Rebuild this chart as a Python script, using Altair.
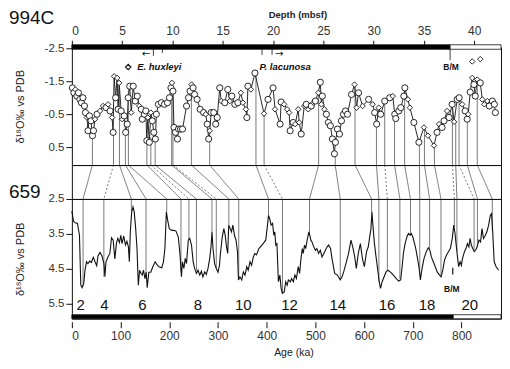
import altair as alt
import pandas as pd

# ---------------- data ----------------
AGE_MAX = 881.0
DEPTH_MAX = 42.66
BM_DEPTH = 37.6
BM_AGE = 783.0

# Site 994C oxygen isotopes (depth in mbsf, d18O permil vs PDB, marker kind)
depth_994 = [0.05, 0.2, 0.35, 0.5, 0.65, 0.8, 0.95, 1.1, 1.25, 1.35, 1.5, 1.6, 1.75, 1.9, 2.05, 2.15, 2.3, 2.5,
             2.8, 3.1, 3.4, 3.6, 3.8, 4.0, 4.1, 4.2, 4.35, 4.5, 4.6, 4.7, 4.9, 5.0, 5.2, 5.35, 5.5, 5.6, 5.75,
             5.9, 6.1, 6.3, 6.5, 6.7, 6.9, 7.0, 7.2, 7.35, 7.45, 7.55, 7.7, 7.85, 8.0, 8.15, 8.3, 8.4, 8.6,
             8.9, 9.2, 9.5, 9.7, 9.85, 9.95, 10.05, 10.15, 10.3, 10.5, 10.6, 10.8, 11.0, 11.4, 11.6, 11.75,
             11.9, 12.05, 12.2, 12.45, 12.75, 13.1, 13.3, 13.45, 13.6, 13.7, 13.85, 14.1, 14.3, 14.45, 14.7,
             14.85, 15.2, 15.5, 15.7, 15.9, 16.2, 16.5, 16.8, 17.0, 17.3, 17.4, 17.5, 17.8, 18.2,
             19.1, 19.5, 20.0, 20.2, 20.7, 20.8, 21.1, 21.4, 21.6, 21.7, 22.0, 22.2, 22.5, 22.6, 22.8, 23.1,
             23.3, 23.5, 23.8, 24.0, 24.2, 24.5, 24.7, 24.8, 24.9, 25.1, 25.3, 25.5, 25.7, 25.9, 26.1, 26.2,
             26.4, 26.6, 26.8, 27.0, 27.2, 27.4, 27.8, 28.1, 28.3, 28.5, 28.9, 29.5, 29.9, 30.1, 30.3, 30.5,
             30.7, 31.1, 31.6, 31.9, 32.1, 32.2, 32.5, 32.7, 33.0, 33.1, 33.4, 33.6, 34.0, 34.5, 35.0, 35.4,
             36.0, 36.3, 36.5, 36.8, 37.0, 37.3, 37.5, 37.8, 38.0, 38.3, 38.5, 38.8, 39.1, 39.3, 39.4, 39.6,
             39.8, 39.97, 40.1, 40.3, 40.6, 40.8, 41.0, 41.3, 41.5, 41.8, 42.0, 42.1]
d18o_994 = [-1.3, -1.15, -1.25, -1.05, -1.15, -0.95, -0.85, -1.0, -0.75, -0.55, -0.4, 0.0, -0.45, -0.3, 0.15, 0.0,
            -0.35, -0.5, -0.6, -0.75, -0.7, -0.8, -0.6, -0.4, 0.05, -1.65, -1.0, -1.6, -0.65, -1.45, -0.6, -0.35,
            -0.45, 0.05, -0.2, -1.0, -1.35, -0.55, -1.35, -0.9, -1.05, -0.75, -0.65, -0.35, -0.5, -0.6, 0.3,
            -0.4, 0.35, -0.55, -0.3, 0.05, 0.25, -0.5, -0.8, -0.85, -0.8, -0.85, -1.0, -1.3, -1.45, -1.2, -0.1,
            0.05, 0.25, -0.05, -0.05, -0.05, -0.75, -1.0, -1.2, -1.4, -1.3, -1.1, -0.95, -0.65, -0.55, -0.5,
            -0.2, 0.25, 0.0, -0.55, -0.55, -0.2, -0.4, -1.3, -0.9, -0.85, -1.25, -0.9, -1.05, -0.8, -0.85,
            -1.15, -0.85, -0.65, -0.4, -1.35, -1.25, -1.75,
            -0.52, -0.95, -1.3, -0.65, -0.2, -0.87, -0.8, -0.65, -0.55, 0.0, -0.25, -0.2, -0.65, -0.25, 0.1,
            -0.75, -0.8, -0.65, -0.75, -0.85, -0.9, -1.15, -1.47, -0.8, -1.05, -0.65, -0.5, -0.25, -0.15, 0.25,
            0.7, 0.35, -0.05, 0.1, -0.3, -0.5, -0.6, -0.5, -1.1, -1.4, -0.7, -1.15, -0.75, -0.95, -0.8, -0.55,
            -0.2, -0.7, -0.5, -0.9, -1.0, -1.05, -0.5, -0.37, -0.6, -0.7, -1.05, -1.3, -0.95, -0.7, -0.25, 0.35,
            -0.1, 0.15, 0.45, 0.05, -0.2, -0.1, -0.3, -0.6, -0.4, -0.8, -0.27, -0.95, -1.0, -0.8, -0.6, -0.35,
            -0.5, -1.17, -1.6, -1.4, -1.05, -1.55, -1.45, -0.95, -0.8, -0.9, -0.75, -0.9, -0.8, -0.55]
kind_994 = list("ccdcccccccdcccccdcddcdcdcdcdcdcdcccccdcccdcccccdcdccccccccccdccccccccccdcccccdccdcccccdcc"
                "dcccdddccdcd"
                "ccdccdddccdddcdcdcdcdcdcdcccccccccccccddcdcdccdcccdccccccddccdddcdccdccdccdccdcdccdcdddcccccccc")

# two isolated diamonds near 40 mbsf
iso_depth = [39.8, 40.6]
iso_val = [-2.1, -2.17]

# Site 659 oxygen isotopes (age ka, d18O)
age_659 = [0, 3.4, 6.8, 11.5, 15.6, 18.3, 21, 24.4, 27, 30, 33, 36.6, 40, 44, 47.5, 51, 53.6, 57.7, 61.7, 65.8,
           67.8, 70, 74, 78, 81.4, 84.8, 88.2, 91.6, 94.3, 97.7, 100.4, 103, 106.5, 110, 113, 116, 118, 120,
           122.8, 125.5, 128, 131, 133.7, 136.4, 139, 141.8, 144.5, 147, 150, 152.6, 154.7, 158, 162, 166, 171,
           175.7, 180, 184.5, 188, 191, 194, 196.7, 200, 205, 209.6, 213.7, 218.5, 222, 225, 227, 230, 232.7,
           235.4, 239, 242, 245.6, 249, 252, 255.8, 259, 262.6, 266, 269, 272.7, 276, 279.5, 283, 285.6, 287.7,
           289.7, 293, 296.5, 300, 303, 305, 308.7, 312, 314.8, 317.5, 320, 322, 325, 327.7, 330.4, 333.8, 337,
           340, 342, 345, 348.7, 352, 355.5, 359, 362, 365.7, 369, 372.5, 375.8, 379, 384, 391.5, 398, 401.6,
           403.7, 406, 409, 412, 414.6, 416.6, 418.6, 421, 424, 427, 429.6, 432, 436, 439, 442, 444.5, 448.6,
           451, 454.6, 458, 461, 464.7, 467.5, 470, 473, 475, 477.6, 480, 483, 486.6, 488.6, 490.6, 493, 496.6,
           500, 503, 506.6, 510, 513.6, 519, 524, 527, 531, 534, 539.5, 545, 551, 554.6, 558, 563.6, 568, 573,
           576.6, 580.7, 584, 588, 592.3, 596.4, 600.5, 605, 608.5, 611, 614, 616, 618, 620.8, 624, 627.6, 631,
           633.6, 637, 641, 645, 649, 654.7, 660, 666, 671, 675, 678, 680.6, 683.5, 686, 689, 691.6, 694.4, 697,
           700, 702.6, 706, 709.6, 713, 715.5, 719, 723, 727.6, 731.7, 735, 738, 742, 746, 750, 755, 758, 761.5,
           765, 769, 773, 777, 781, 784, 786.6, 789, 792, 794, 797, 799.6, 802, 806, 809, 812, 815, 817.6, 820,
           823, 826, 829, 832, 835.6, 839, 842, 845, 849, 852, 855.6, 859, 861.6, 864, 867, 871, 876]
d18o_659 = [2.85, 3.14, 3.18, 3.2, 3.54, 4.97, 5.04, 4.92, 4.54, 4.3, 4.35, 4.28, 4.32, 4.17, 4.3, 4.41, 4.13,
            4.03, 4.13, 4.35, 4.73, 4.3, 4.16, 4.06, 3.61, 3.68, 4.22, 3.76, 3.63, 3.75, 3.54, 3.78, 3.56, 3.82,
            3.71, 3.87, 4.3, 3.44, 2.87, 2.73, 2.87, 3.35, 3.92, 4.97, 4.54, 4.63, 4.68, 4.54, 4.78, 4.6, 5.04,
            4.6, 4.6, 4.45, 4.3, 4.4, 4.45, 4.47, 4.3, 3.92, 2.87, 3.11, 3.35, 3.4, 3.4, 3.42, 3.59, 4.1, 4.73,
            4.3, 4.49, 4.2, 4.35, 3.68, 3.63, 3.82, 4.3, 4.49, 4.63, 4.54, 4.68, 4.57, 4.73, 4.59, 4.66, 4.49,
            4.2, 3.87, 3.44, 3.92, 4.35, 4.49, 4.6, 4.4, 4.06, 3.59, 3.35, 3.54, 3.87, 4.06, 3.25, 3.35, 3.44,
            3.25, 3.54, 3.68, 4.01, 4.82, 4.73, 4.82, 4.59, 4.68, 4.44, 4.54, 4.3, 4.4, 4.16, 4.06, 4.1, 3.92,
            3.8, 3.68, 3.25, 2.97, 3.06, 3.25, 3.2, 3.54, 3.44, 3.82, 3.78, 4.87, 4.68, 5.06, 5.2, 5.16, 4.87,
            4.97, 4.82, 4.87, 4.78, 4.87, 4.68, 4.78, 4.44, 4.63, 4.25, 3.92, 4.06, 3.82, 3.92, 3.68, 3.44, 3.54,
            3.68, 3.73, 3.87, 3.97, 3.92, 4.06, 3.97, 4.16, 4.01, 3.87, 3.82, 3.92, 4.2, 4.63, 4.68, 4.82, 4.73,
            4.59, 4.3, 4.06, 3.68, 3.87, 4.16, 4.49, 4.06, 3.78, 4.2, 4.44, 4.01, 3.87, 3.63, 3.35, 2.87, 3.25,
            3.73, 4.11, 4.49, 4.87, 5.06, 4.87, 4.73, 4.59, 4.54, 4.6, 4.68, 4.78, 4.85, 4.82, 4.44, 4.06, 3.82,
            3.68, 3.54, 3.49, 3.54, 3.49, 3.59, 3.73, 3.92, 4.2, 4.49, 4.82, 4.49, 4.2, 4.01, 3.9, 3.97, 4.16,
            4.3, 4.44, 4.59, 4.68, 4.73, 4.54, 4.25, 4.11, 4.01, 3.92, 3.63, 3.25, 3.49, 3.82, 4.2, 4.44, 4.3,
            4.4, 4.2, 4.01, 3.92, 3.78, 3.87, 3.63, 3.82, 3.92, 4.01, 3.97, 3.87, 3.68, 3.73, 3.35, 3.63, 3.54,
            3.44, 3.25, 2.97, 2.92, 3.44, 4.3, 4.44, 4.54]

# correlation tie points: depth in 994C <-> age in 659
tie_depth = [2.04, 4.14, 4.73, 5.32, 5.62, 7.46, 7.85, 8.28, 9.92, 10.05, 11.88, 13.70, 18.30, 19.11, 24.53,
             26.18, 28.15, 30.28, 31.10, 32.08, 33.08, 34.55, 35.05, 36.04, 37.83, 38.16, 38.49, 39.31, 40.30]
tie_top = [0.1, 0.05, -1.45, 0.05, -1.3, 0.3, 0.2, 0.25, -1.45, -1.2, -1.4, 0.0, -1.75, -0.52, -1.15, 0.7,
           -1.4, -0.2, -0.9, -0.5, -1.3, 0.35, -0.1, 0.45, -0.8, -0.3, -1.0, -0.35, -1.55]
tie_age = [23.0, 65.7, 122.1, 152.2, 194.8, 224.0, 240.3, 255.8, 287.6, 296.5, 322.3, 342.6, 403.7, 432.3,
           487.9, 551.0, 615.3, 630.3, 647.7, 673.4, 695.2, 714.2, 734.4, 757.8, 785.3, 790.5, 825.8, 832.6, 863.1]
tie_bot = [5.0, 4.73, 2.85, 4.78, 2.87, 4.6, 3.65, 4.55, 3.44, 4.49, 3.25, 4.82, 2.97, 5.2, 3.54, 4.82, 2.87,
           4.87, 4.55, 4.8, 3.52, 4.7, 3.95, 4.73, 3.3, 4.0, 4.0, 3.87, 3.4]
tie_dash = [0, 1, 0, 0, 0, 0, 1, 0, 0, 1, 0, 0, 0, 1, 0, 0, 0, 0, 1, 0, 0, 0, 0, 0, 1, 0, 1, 0, 0]

# marine isotope stage labels
stage_label = ["2", "4", "6", "8", "10", "12", "14", "16", "18", "20"]
stage_age = [18, 67, 145, 259, 352, 447, 546, 647, 729, 817]

# ---------------- layout / style ----------------
W, H1, H2, H3 = 430, 118, 34, 120
FONT = "Liberation Sans"
INK = "#111111"
LBL = "#333333"

top_df = pd.DataFrame({"depth": depth_994, "v": d18o_994, "kind": kind_994[:len(depth_994)]})
iso_df = pd.DataFrame({"depth": iso_depth, "v": iso_val})
tie_df = pd.DataFrame({"tie_depth": tie_depth, "tie_top": tie_top, "tie_age": tie_age, "tie_bot": tie_bot,
                       "dash": tie_dash})
tie_df["x_top_eq"] = tie_df["tie_depth"] * AGE_MAX / DEPTH_MAX
bot_df = pd.DataFrame({"age": age_659, "v": d18o_659})
stage_df = pd.DataFrame({"label": stage_label, "age": stage_age})

depth_scale = alt.Scale(domain=[0, DEPTH_MAX], nice=False, zero=False)
top_y_scale = alt.Scale(domain=[-2.53, 1.04], reverse=True, nice=False, zero=False)
age_scale = alt.Scale(domain=[0, AGE_MAX], nice=False, zero=False)
bot_y_scale = alt.Scale(domain=[2.5, 5.93], reverse=True, nice=False, zero=False)

minus_fmt = "(datum.value < 0 ? '-' : '') + format(abs(datum.value), '.1f')"

AX_DEPTH = alt.Axis(orient="top", values=[0, 5, 10, 15, 20, 25, 30, 35, 40], title="Depth (mbsf)",
                    tickSize=7, labelPadding=3, labelFontSize=12, titleFontSize=9.5,
                    titleFontWeight="bold", titlePadding=5, titleX=226, grid=False, domain=False)
AX_TOP_Y = alt.Axis(values=[-2.5, -1.5, -0.5, 0.5], labelExpr=minus_fmt, title="δ¹⁸O‰ vs PDB",
                    tickSize=6, labelFontSize=11.5, titleFontSize=11, titleFontWeight="normal",
                    titleX=-51, titleBaseline="middle", grid=False, domain=False)
AX_AGE = alt.Axis(orient="bottom", values=[0, 100, 200, 300, 400, 500, 600, 700, 800],
                  title="Age (ka)", offset=3, tickSize=6, labelPadding=3, labelFontSize=12,
                  titleFontSize=10.5, titleFontWeight="normal", titlePadding=6, titleX=222,
                  grid=False, domain=False)
AX_BOT_Y = alt.Axis(values=[2.5, 3.5, 4.5, 5.5], format=".1f", title="δ¹⁸O‰ vs PDB", tickSize=6,
                    labelFontSize=11.5, titleFontSize=11, titleFontWeight="normal", titleX=-51,
                    titleBaseline="middle", grid=False, domain=False)


def tx(field):
    return alt.X(field, scale=depth_scale, axis=AX_DEPTH)


def ty(field):
    return alt.Y(field, scale=top_y_scale, axis=AX_TOP_Y)


def bx(field):
    return alt.X(field, scale=age_scale, axis=AX_AGE)


def by(field):
    return alt.Y(field, scale=bot_y_scale, axis=AX_BOT_Y)


# ---------- top panel (994C) ----------
top_line = alt.Chart(top_df).mark_line(color=INK, strokeWidth=0.9).encode(
    x=tx("depth:Q"), y=ty("v:Q"), order="depth:Q")
top_ties = alt.Chart(tie_df).mark_rule(color="#222", strokeWidth=0.6).encode(
    x=tx("tie_depth:Q"), y=ty("tie_top:Q"), y2=alt.value(H1))
top_pts = alt.Chart(top_df).mark_point(filled=True, fill="white", stroke=INK, strokeWidth=0.9, opacity=1).encode(
    x=tx("depth:Q"), y=ty("v:Q"),
    shape=alt.Shape("kind:N", scale=alt.Scale(domain=["c", "d"], range=["circle", "diamond"]), legend=None),
    size=alt.Size("kind:N", scale=alt.Scale(domain=["c", "d"], range=[38, 30]), legend=None),
)
iso_pts = alt.Chart(iso_df).mark_point(shape="diamond", filled=True, fill="white", stroke=INK,
                                       strokeWidth=0.9, size=30, opacity=1).encode(
    x=tx("depth:Q"), y=ty("v:Q"))
bar_top = pd.DataFrame({"depth": [0, BM_DEPTH], "x1": [BM_DEPTH, DEPTH_MAX], "fill": ["black", "white"]})
top_bar = alt.Chart(bar_top).mark_rect(stroke=INK, strokeWidth=0.8).encode(
    x=tx("depth:Q"), x2="x1:Q",
    y=alt.value(-2.5), y2=alt.value(2),
    fill=alt.Fill("fill:N", scale=None),
)
# biostratigraphic / magnetic annotations
ann_rule_df = pd.DataFrame({"depth": [8.1, 9.0, 18.9, 19.9, BM_DEPTH],
                            "v": [-2.5, -2.5, -2.5, -2.5, -2.5],
                            "v1": [-2.27, -2.36, -2.3, -2.3, -2.14]})
ann_rules = alt.Chart(ann_rule_df).mark_rule(color=INK, strokeWidth=0.8).encode(
    x=tx("depth:Q"), y=ty("v:Q"), y2="v1:Q")
arrow_df = pd.DataFrame({"depth": [7.35, 20.6], "v": [-2.34, -2.34], "t": ["←", "→"]})
arrows = alt.Chart(arrow_df).mark_text(font="DejaVu Sans", fontSize=10, color=INK).encode(
    x=tx("depth:Q"), y=ty("v:Q"), text="t:N")
species_df = pd.DataFrame({"depth": [6.5, 18.65], "v": [-1.93, -1.93], "t": ["E. huxleyi", "P. lacunosa"]})
species = alt.Chart(species_df).mark_text(font=FONT, fontSize=9.5, fontStyle="italic", fontWeight="bold",
                                          align="left", color=INK).encode(
    x=tx("depth:Q"), y=ty("v:Q"), text="t:N")
hux_marker = alt.Chart(pd.DataFrame({"depth": [5.6], "v": [-1.93]})).mark_point(
    shape="diamond", filled=True, fill="white", stroke=INK, strokeWidth=1.2, size=28, opacity=1).encode(
    x=tx("depth:Q"), y=ty("v:Q"))
bm_top = alt.Chart(pd.DataFrame({"depth": [BM_DEPTH + 0.1], "v": [-1.93], "t": ["B/M"]})).mark_text(
    font=FONT, fontSize=8.5, fontWeight="bold", color=INK).encode(
    x=tx("depth:Q"), y=ty("v:Q"), text="t:N")
site_top = alt.Chart(pd.DataFrame({"t": ["994C"]})).mark_text(
    font="Liberation Sans", fontSize=19, align="left", baseline="middle", color=INK).encode(
    x=alt.value(-63), y=alt.value(-29), text="t:N")

top_panel = alt.layer(top_line, top_ties, top_pts, iso_pts, ann_rules, arrows, species, hux_marker,
                      bm_top, top_bar, site_top).properties(width=W, height=H1)

# ---------- middle tie panel ----------
mid_panel = alt.Chart(tie_df).mark_rule(color="#222", strokeWidth=0.6).encode(
    x=alt.X("x_top_eq:Q", scale=age_scale, axis=None),
    x2="tie_age:Q",
    y=alt.value(0), y2=alt.value(H2),
    strokeDash=alt.StrokeDash("dash:N", scale=alt.Scale(domain=[0, 1], range=[[1, 0], [2, 2]]), legend=None),
).properties(width=W, height=H2)

# ---------- bottom panel (659) ----------
bot_line = alt.Chart(bot_df).mark_line(color=INK, strokeWidth=1.1).encode(
    x=bx("age:Q"), y=by("v:Q"), order="age:Q")
bot_ties = alt.Chart(tie_df).mark_rule(color="#222", strokeWidth=0.6).encode(
    x=bx("tie_age:Q"), y=by("tie_bot:Q"), y2=alt.value(0))
stages = alt.Chart(stage_df).mark_text(font="Liberation Sans", fontSize=15, color=INK, baseline="middle").encode(
    x=bx("age:Q"), y=alt.value(H3 - 14), text="label:N")
bm_bot = alt.Chart(pd.DataFrame({"age": [BM_AGE - 3], "v": [5.07], "t": ["B/M"]})).mark_text(
    font=FONT, fontSize=8.5, fontWeight="bold", color=INK).encode(
    x=bx("age:Q"), y=by("v:Q"), text="t:N")
bm_tick = alt.Chart(pd.DataFrame({"age": [BM_AGE - 1], "v": [4.47], "v1": [4.66]})).mark_rule(
    color=INK, strokeWidth=1.2).encode(
    x=bx("age:Q"), y=by("v:Q"), y2="v1:Q")
bar_bot = pd.DataFrame({"age": [0, BM_AGE], "x1": [BM_AGE, AGE_MAX], "fill": ["black", "white"]})
bot_bar = alt.Chart(bar_bot).mark_rect(stroke=INK, strokeWidth=0.8).encode(
    x=bx("age:Q"), x2="x1:Q",
    y=alt.value(H3 - 4), y2=alt.value(H3),
    fill=alt.Fill("fill:N", scale=None),
)
site_bot = alt.Chart(pd.DataFrame({"t": ["659"]})).mark_text(
    font="Liberation Sans", fontSize=19, align="left", baseline="middle", color=INK).encode(
    x=alt.value(-63), y=alt.value(-7), text="t:N")

bot_panel = alt.layer(bot_line, bot_ties, stages, bm_bot, bm_tick, bot_bar, site_bot).properties(
    width=W, height=H3)

chart = alt.vconcat(top_panel, mid_panel, bot_panel, spacing=0, bounds="flush").properties(
    padding={"left": 0, "top": 0, "right": 0, "bottom": 0},
    background="white",
).configure_view(stroke=INK, strokeWidth=1).configure_axis(
    labelFont=FONT, titleFont=FONT, labelColor=LBL, titleColor="#222", tickColor=INK, tickWidth=1,
).configure_concat(spacing=0)

chart.save("out.html", embed_options={"renderer": "svg", "actions": False})
